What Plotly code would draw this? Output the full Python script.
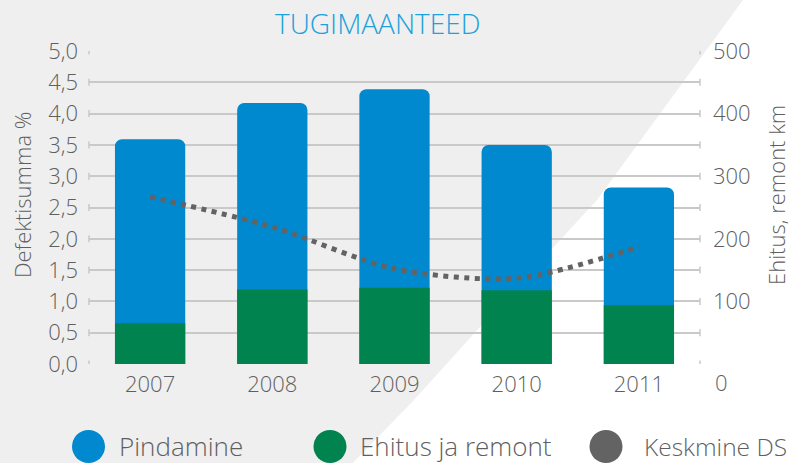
import plotly.graph_objects as go

# ---- data ----
years = ["2007", "2008", "2009", "2010", "2011"]
pindamine_km = [294, 298, 317, 232, 188]      # surfacing (km)
ehitus_km = [65, 119, 122, 118, 94]           # construction & repair (km)
keskmine_ds = [2.67, 2.19, 1.52, 1.37, 1.87]  # average defect sum (%)

left_ticks = [0, 0.5, 1.0, 1.5, 2.0, 2.5, 3.0, 3.5, 4.0, 4.5, 5.0]
right_ticks = [100, 200, 300, 400, 500]

title_text = "TUGIMAANTEED"
left_title = "Defektisumma %"
right_title = "Ehitus, remont km"
legend_labels = ["Pindamine", "Ehitus ja remont", "Keskmine DS"]

# ---- style ----
W, H = 794, 463
L, R, T, B = 89, 700, 51, 364
FONT = "Open Sans"
FW = 300
GREY = "#5f5f5f"
BLUE = "#0089CE"
GREEN = "#00834F"
DOT = "#636363"
GRID = "#c9c9c9"


def px(x):
    return (x - L) / (R - L)


def py(y):
    return (B - y) / (B - T)


def f(size, color=GREY):
    return dict(family=FONT, size=size, color=color, weight=FW)


total_km = [p + e for p, e in zip(pindamine_km, ehitus_km)]

fig = go.Figure()
# bars on the km axis (y, right side), line on the % axis (y2, left side, drawn on top)
fig.add_trace(go.Bar(x=years, y=total_km, name=legend_labels[0], yaxis="y",
                     marker=dict(color=BLUE, line=dict(width=0)), showlegend=False))
fig.add_trace(go.Bar(x=years, y=ehitus_km, name=legend_labels[1], yaxis="y",
                     marker=dict(color=GREEN, line=dict(width=0)), showlegend=False))
fig.add_trace(go.Scatter(x=years, y=keskmine_ds, name=legend_labels[2], mode="lines", yaxis="y2",
                         line=dict(color=DOT, width=5, dash="5px,5.5px", shape="spline", smoothing=0.8),
                         showlegend=False))

shapes = []
# white diagonal background region
pts = [(743, 0), (800, 0), (800, 470), (346, 470), (414, 400), (480, 327), (597, 200)]
path = "M " + " L ".join(f"{px(x):.4f},{py(y):.4f}" for x, y in pts) + " Z"
shapes.append(dict(type="path", path=path, xref="paper", yref="paper",
                   fillcolor="white", line=dict(width=0), layer="below"))
# grid end caps
for v in left_ticks:
    for xx in (0, 1):
        shapes.append(dict(type="line", xref="paper", yref="y2", x0=xx, x1=xx,
                           ysizemode="pixel", yanchor=v, y0=-3.5, y1=3.5,
                           line=dict(color=GRID, width=1.5), layer="below"))
# legend circles
leg_colors = [BLUE, GREEN, DOT]
leg_cx = [88.5, 330, 606]
for c, cx in zip(leg_colors, leg_cx):
    shapes.append(dict(type="circle", xref="paper", yref="paper",
                       xsizemode="pixel", ysizemode="pixel",
                       xanchor=px(cx), yanchor=py(446.5),
                       x0=-16.5, x1=16.5, y0=-16.5, y1=16.5,
                       fillcolor=c, line=dict(width=0)))

annotations = [
    dict(text=title_text, x=px(378), y=py(23), xref="paper", yref="paper",
         xanchor="center", yanchor="middle",
         showarrow=False, font=f(28, "#1BA1DB")),
    dict(text=left_title, x=px(22), y=py(195), xref="paper", yref="paper",
         xanchor="center", yanchor="middle",
         textangle=-90, showarrow=False, font=f(22)),
    dict(text=right_title, x=px(776), y=py(195), xref="paper", yref="paper",
         xanchor="center", yanchor="middle",
         textangle=-90, showarrow=False, font=f(22)),
    dict(text="0", x=px(713), y=py(382), xref="paper", yref="paper",
         xanchor="left", yanchor="middle",
         showarrow=False, font=f(22)),
]
leg_tx = [117, 358, 642]
leg_sz = [26, 26, 24.5]
for lab, tx, sz in zip(legend_labels, leg_tx, leg_sz):
    annotations.append(dict(text=lab, x=px(tx), y=py(446), xref="paper", yref="paper",
                            xanchor="left", yanchor="middle", showarrow=False,
                            font=f(sz)))

fig.update_layout(
    width=W, height=H,
    margin=dict(l=L, r=W - R, t=T, b=H - B, pad=0),
    paper_bgcolor="#efefef", plot_bgcolor="rgba(0,0,0,0)",
    separators=",.",
    barmode="overlay", bargap=0.425, barcornerradius=7,
    showlegend=False,
    font=f(22),
    xaxis=dict(showgrid=False, showline=False, zeroline=False, ticks="",
               tickfont=f(22), ticklabelstandoff=5),
    yaxis=dict(range=[0, 500], tickvals=right_ticks, side="right",
               showgrid=False, zeroline=False, showline=False, ticks="",
               tickfont=f(22), ticklabelstandoff=12),
    yaxis2=dict(range=[0, 5], tickvals=left_ticks, tickformat=".1f", overlaying="y", side="left",
                showgrid=True, gridcolor=GRID, gridwidth=1.5, zeroline=False,
                showline=False, ticks="", tickfont=f(22),
                ticklabelstandoff=10),
    shapes=shapes,
    annotations=annotations,
)

fig.write_html("out.html", config={"displayModeBar": False},
               post_script="document.body.style.margin='0';document.body.style.overflow='hidden';")
